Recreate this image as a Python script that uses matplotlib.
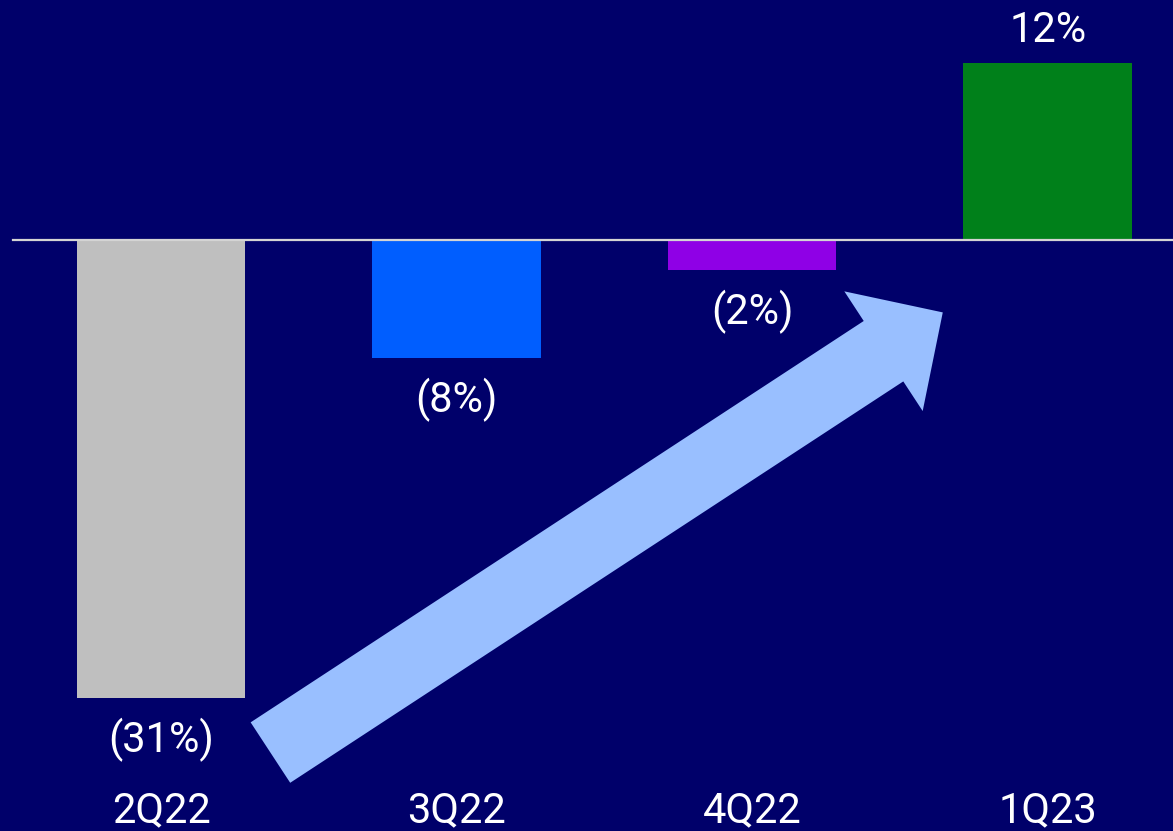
import matplotlib
matplotlib.use("Agg")
import matplotlib.pyplot as plt

quarters = ["2Q22", "3Q22", "4Q22", "1Q23"]
growth = [-31, -8, -2, 12]
value_labels = ["(31%)", "(8%)", "(2%)", "12%"]
bar_colors = ["#bfbfbf", "#005eff", "#8f00e6", "#00801a"]

bg = "#00006a"
plt.rcParams["font.family"] = ["Roboto", "DejaVu Sans"]

fig = plt.figure(figsize=(11.73, 8.31), dpi=100)
fig.patch.set_facecolor(bg)
ax = fig.add_axes([0, 0, 1, 1])
ax.set_facecolor(bg)

x = list(range(len(quarters)))
ax.bar(x, growth, width=0.57, color=bar_colors, zorder=2)

# zero line
ax.plot([-0.5, 3.5], [0, 0], color="#d4d4d4", lw=1.6, zorder=3)

for xi, v, lab in zip(x, growth, value_labels):
    off = 15 if v > 0 else -39
    ax.annotate(lab, (xi, v), xytext=(0, off), textcoords="offset points",
                ha="center", va="baseline", color="white", fontsize=30)
    ax.text(xi, -39.4, quarters[xi], ha="center", va="baseline",
            color="white", fontsize=30)

# big trend arrow from 2Q22 up to 1Q23
ax.annotate("", xy=(2.645, -4.9), xytext=(0.37, -34.7),
            arrowprops=dict(arrowstyle="simple,head_length=51,head_width=103,tail_width=52",
                            mutation_scale=1, color="#99bfff", lw=0,
                            shrinkA=0, shrinkB=0),
            zorder=4)

ax.set_xlim(-0.545, 3.424)
ax.set_ylim(-40.01, 16.25)
ax.axis("off")

fig.savefig("out.png", dpi=100, facecolor=bg)
